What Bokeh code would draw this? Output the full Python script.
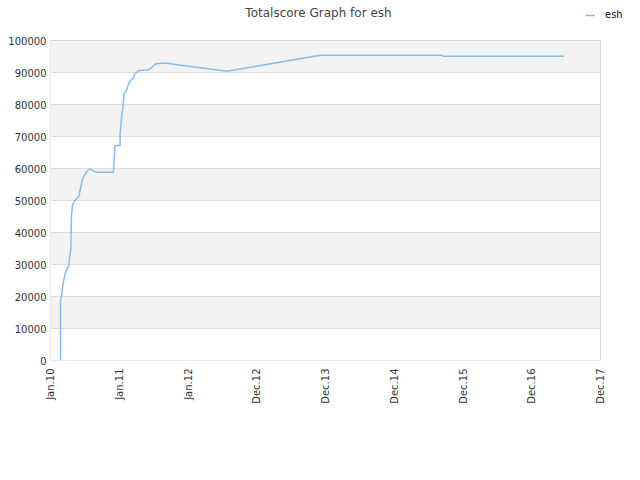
from bokeh.plotting import figure
from bokeh.models import ColumnDataSource, Legend, LegendItem, FixedTicker, Range1d, Label
from bokeh.embed import file_html
from bokeh.resources import INLINE

# x in tick units (0 = Jan.10, 1 = Jan.11, ... 8 = Dec.17)
tick_labels = ["Jan.10", "Jan.11", "Jan.12", "Dec.12", "Dec.13", "Dec.14", "Dec.15", "Dec.16", "Dec.17"]
t = [0.145, 0.145, 0.160, 0.185, 0.185, 0.204, 0.210, 0.243, 0.266, 0.281, 0.295, 0.305,
     0.320, 0.340, 0.386, 0.411, 0.435, 0.460, 0.485, 0.533, 0.565, 0.667, 0.916, 0.925,
     0.939, 1.012, 1.012, 1.031, 1.056, 1.070, 1.105, 1.125, 1.149, 1.189, 1.212, 1.228,
     1.285, 1.405, 1.444, 1.531, 1.677, 1.844, 2.570, 3.927, 5.697, 5.706, 7.467]
score = [0, 19000, 20000, 24500, 24500, 26000, 27000, 28700, 29600, 32800, 34400, 45300,
         48400, 49500, 50800, 51200, 53600, 56250, 57500, 59200, 59900, 58800, 58800, 62500,
         67200, 67200, 70800, 75500, 79700, 83300, 84400, 85900, 87000, 88000, 88500, 89600,
         90600, 90800, 91100, 92700, 93000, 92400, 90400, 95400, 95400, 95100, 95100]
y_ticks = [0, 10000, 20000, 30000, 40000, 50000, 60000, 70000, 80000, 90000, 100000]
x_max = 8
y_max = 100000

# layout (pixels): plot box 50..600 x 40..360 inside a 632x472 figure
W, H = 632, 472
BOX_L, BOX_R, BOX_T, BOX_B = 50, 600, 40, 360
px_x = x_max / (BOX_R - BOX_L)
px_y = y_max / (BOX_B - BOX_T)
x_hi = x_max + (W - BOX_R) * px_x
y_hi = y_max + BOX_T * px_y

src = ColumnDataSource(dict(t=t, score=score))

p = figure(width=W, height=H, output_backend="svg", toolbar_location=None,
           x_range=Range1d(0, x_hi), y_range=Range1d(0, y_hi),
           min_border_left=BOX_L, min_border_right=0, min_border_top=0,
           min_border_bottom=H - BOX_B)
p.background_fill_color = "white"
p.border_fill_color = "white"
p.outline_line_color = None

p.xgrid.grid_line_color = None
p.ygrid.grid_line_color = "#dddddd"
p.ygrid.band_fill_color = "#f3f3f3"
p.ygrid.band_fill_alpha = 1.0
p.ygrid.cross_bounds = (0, x_max)
p.ygrid.bounds = (0, y_max)

p.quad(left=[0], right=[x_max], bottom=[0], top=[y_max], fill_color=None,
       line_color="#d6d6d6", line_width=1)

r = p.line("t", "score", source=src, line_color="#88bbee", line_width=1.5)

p.xaxis.ticker = FixedTicker(ticks=list(range(len(tick_labels))))
p.xaxis.major_label_overrides = {i: s for i, s in enumerate(tick_labels)}
p.xaxis.major_label_orientation = 1.5708
p.yaxis.ticker = FixedTicker(ticks=y_ticks)
for ax in (p.xaxis[0], p.yaxis[0]):
    ax.axis_line_color = None
    ax.major_tick_line_color = None
    ax.minor_tick_line_color = None
    ax.major_tick_out = 0
    ax.major_tick_in = 0
    ax.major_label_text_font = "DejaVu Sans"
    ax.major_label_text_font_size = "10px"
    ax.major_label_text_color = "#333333"
p.xaxis.major_label_standoff = 8
p.yaxis.major_label_standoff = 4
p.yaxis.formatter.use_scientific = False

title = Label(x=(318 - BOX_L) * px_x, y=y_max + (BOX_T - 12) * px_y,
              text="Totalscore Graph for esh", text_align="center", text_baseline="middle",
              text_font="DejaVu Sans", text_font_size="12px", text_color="#444444")
p.add_layout(title)

legend = Legend(items=[LegendItem(label="esh", renderers=[r])],
                location=(585 - BOX_L, BOX_B - 20),
                background_fill_alpha=0, border_line_color=None,
                label_text_font="DejaVu Sans", label_text_font_size="10px",
                label_text_color="#111111",
                glyph_width=10, glyph_height=8, padding=0, margin=0, label_standoff=10)
p.add_layout(legend, "center")

open("out.html", "w").write(file_html(p, INLINE))
